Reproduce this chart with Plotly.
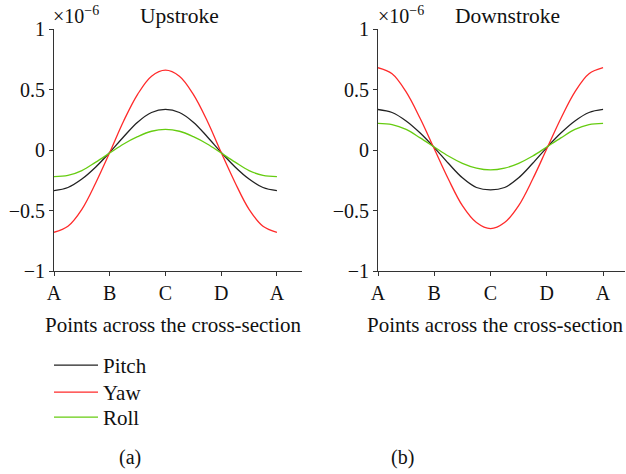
import plotly.graph_objects as go

# x positions: A..B..C..D..A in quarter steps (0..4)
x_pos = [0, 0.25, 0.5, 0.75, 1, 1.25, 1.5, 1.75, 2, 2.25, 2.5, 2.75, 3, 3.25, 3.5, 3.75, 4]
tick_vals = [0, 1, 2, 3, 4]
tick_labels = ["A", "B", "C", "D", "A"]
y_tick_vals = [1, 0.5, 0, -0.5, -1]
y_tick_labels = ["1", "0.5", "0", "\u22120.5", "\u22121"]
x_title = "Points across the cross-section"

# values in units of 1e-6
up_pitch = [-0.335, -0.31, -0.24, -0.14, -0.02, 0.11, 0.23, 0.31, 0.335, 0.31, 0.23, 0.11, -0.02, -0.14, -0.24, -0.31, -0.335]
up_yaw = [-0.68, -0.63, -0.49, -0.27, -0.02, 0.24, 0.46, 0.61, 0.66, 0.61, 0.46, 0.24, -0.02, -0.27, -0.49, -0.63, -0.68]
up_roll = [-0.22, -0.21, -0.17, -0.10, -0.025, 0.05, 0.11, 0.155, 0.17, 0.155, 0.11, 0.05, -0.025, -0.10, -0.17, -0.21, -0.22]

down_pitch = [0.335, 0.31, 0.24, 0.14, 0.02, -0.11, -0.23, -0.31, -0.33, -0.31, -0.23, -0.11, 0.02, 0.14, 0.24, 0.31, 0.335]
down_yaw = [0.68, 0.63, 0.48, 0.26, 0.01, -0.24, -0.46, -0.60, -0.65, -0.60, -0.46, -0.24, 0.01, 0.26, 0.48, 0.63, 0.68]
down_roll = [0.22, 0.21, 0.17, 0.10, 0.025, -0.05, -0.11, -0.15, -0.165, -0.15, -0.11, -0.05, 0.025, 0.10, 0.17, 0.21, 0.22]

series_names = ["Pitch", "Yaw", "Roll"]
colors = ["#222222", "#ff2a2a", "#66cc11"]

FONT = "Liberation Serif"
W, H = 626, 474

def px_x(p):
    return p / W

def px_y(p):
    return 1 - p / H

legend_ids = ["legend", "legend2", "legend3"]
legend_tops = [345, 372, 397]

fig = go.Figure()
for name, col, ys, lg in zip(series_names, colors, [up_pitch, up_yaw, up_roll], legend_ids):
    fig.add_trace(go.Scatter(x=x_pos, y=ys, mode="lines", name=name, legend=lg,
                             line=dict(color=col, width=1.3, shape="spline"),
                             xaxis="x", yaxis="y"))
for name, col, ys in zip(series_names, colors, [down_pitch, down_yaw, down_roll]):
    fig.add_trace(go.Scatter(x=x_pos, y=ys, mode="lines", name=name, showlegend=False,
                             line=dict(color=col, width=1.3, shape="spline"),
                             xaxis="x2", yaxis="y2"))

axis_common = dict(showgrid=False, zeroline=False, showline=True, linecolor="#333333",
                   linewidth=1, ticks="outside", ticklen=4, tickcolor="#333333",
                   automargin=False,
                   tickfont=dict(family=FONT, size=20, color="#111111"))

xt = dict(tickmode="array", tickvals=tick_vals, ticktext=tick_labels, **axis_common)
yt = dict(tickmode="array", tickvals=y_tick_vals, ticktext=y_tick_labels,
          range=[-1, 1], **axis_common)

layout_kw = dict(
    width=W, height=H,
    margin=dict(l=0, r=0, t=0, b=0, pad=0, autoexpand=False),
    paper_bgcolor="white", plot_bgcolor="white",
    font=dict(family=FONT, size=21, color="#111111"),
    xaxis=dict(domain=[px_x(54), px_x(302)], range=[0, 4.45], anchor="y", **xt),
    yaxis=dict(domain=[px_y(271), px_y(29)], anchor="x", **yt),
    xaxis2=dict(domain=[px_x(378), px_x(625)], range=[0, 4.39], anchor="y2", **xt),
    yaxis2=dict(domain=[px_y(271), px_y(29)], anchor="x2", **yt),
    showlegend=True,
)
for lg, top in zip(legend_ids, legend_tops):
    layout_kw[lg] = dict(x=px_x(49), y=px_y(top), xanchor="left", yanchor="top",
                         font=dict(family=FONT, size=21, color="#111111"),
                         bgcolor="rgba(0,0,0,0)", itemwidth=44)
fig.update_layout(**layout_kw)

annots = [
    dict(text="\u00d710<sup>\u22126</sup>", x=px_x(51), y=px_y(15), size=20, anchor="left"),
    dict(text="Upstroke", x=px_x(138), y=px_y(16), size=21.5, anchor="left"),
    dict(text="\u00d710<sup>\u22126</sup>", x=px_x(376), y=px_y(15), size=20, anchor="left"),
    dict(text="Downstroke", x=px_x(453), y=px_y(16), size=21.5, anchor="left"),
    dict(text=x_title, x=px_x(173), y=px_y(325), size=21, anchor="center"),
    dict(text=x_title, x=px_x(495), y=px_y(325), size=21, anchor="center"),
    dict(text="(a)", x=px_x(117), y=px_y(457), size=20, anchor="left"),
    dict(text="(b)", x=px_x(389), y=px_y(457), size=20, anchor="left"),
]
for a in annots:
    fig.add_annotation(text=a["text"], x=a["x"], y=a["y"], xref="paper", yref="paper",
                       xanchor=a["anchor"], yanchor="middle", showarrow=False,
                       font=dict(family=FONT, size=a["size"], color="#111111"))

fig.write_html("out.html", config={"displayModeBar": False},
               post_script="document.body.style.margin='0';document.body.style.overflow='hidden';")
